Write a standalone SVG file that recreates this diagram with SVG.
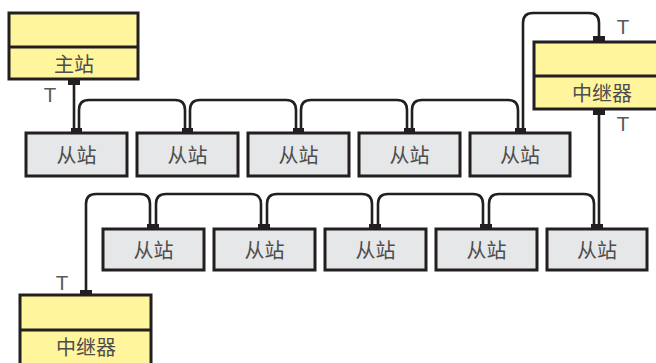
<svg xmlns="http://www.w3.org/2000/svg" width="656" height="363" viewBox="0 0 656 363">
<style>
.y{fill:#fff59d;stroke:#231f20;stroke-width:3}
.g{fill:#e6e7e8;stroke:#231f20;stroke-width:3}
.dv{stroke:#231f20;stroke-width:3}
.t{font-family:"Noto Sans CJK SC","Liberation Sans",sans-serif;font-size:20px;fill:#4d4d4d;text-anchor:middle;dominant-baseline:central}
.tt{font-family:"Liberation Sans",sans-serif;font-size:20.5px;fill:#58595b;text-anchor:middle}
.c{fill:none;stroke:#231f20;stroke-width:2.6}
.b{fill:#231f20}
</style>
<rect width="656" height="363" fill="#fff"/>
<g id="connectors">
<path class="c" d="M74 85 V128"/>
<path class="c" d="M79 128 V110 Q79 100 89 100 H175 Q185 100 185 110 V128"/>
<path class="c" d="M190 128 V110 Q190 100 200 100 H286 Q296 100 296 110 V128"/>
<path class="c" d="M301 128 V110 Q301 100 311 100 H397 Q407 100 407 110 V128"/>
<path class="c" d="M412 128 V110 Q412 100 422 100 H508 Q518 100 518 110 V128"/>
<path class="c" d="M523 128 V23 Q523 13 533 13 H589 Q599 13 599 23 V37"/>
<path class="c" d="M599 114 V224"/>
<path class="c" d="M594 224 V204 Q594 194 584 194 H499 Q489 194 489 204 V224"/>
<path class="c" d="M483 224 V204 Q483 194 473 194 H388 Q378 194 378 204 V224"/>
<path class="c" d="M372 224 V204 Q372 194 362 194 H277 Q267 194 267 204 V224"/>
<path class="c" d="M261 224 V204 Q261 194 251 194 H166 Q156 194 156 204 V224"/>
<path class="c" d="M150 224 V204 Q150 194 140 194 H96 Q86 194 86 204 V290"/>
<rect class="b" x="68" y="79" width="12" height="6"/>
<rect class="b" x="71" y="128" width="11" height="6"/>
<rect class="b" x="182" y="128" width="11" height="6"/>
<rect class="b" x="293" y="128" width="11" height="6"/>
<rect class="b" x="404" y="128" width="11" height="6"/>
<rect class="b" x="515" y="128" width="11" height="6"/>
<rect class="b" x="593" y="36" width="12" height="6"/>
<rect class="b" x="593" y="109" width="12" height="6"/>
<rect class="b" x="147" y="224" width="12" height="6"/>
<rect class="b" x="258" y="224" width="12" height="6"/>
<rect class="b" x="369" y="224" width="12" height="6"/>
<rect class="b" x="480" y="224" width="12" height="6"/>
<rect class="b" x="591" y="224" width="12" height="6"/>
<rect class="b" x="80" y="290" width="12" height="6"/>
</g>
<g id="master">
<rect class="y" x="9" y="13" width="129" height="66"/>
<line class="dv" x1="9" y1="47" x2="138" y2="47"/>
<text class="t" x="74" y="63">主站</text>
<text class="tt" x="50" y="102">T</text>
</g>
<g id="repeater1">
<rect class="y" x="534" y="42" width="132" height="67"/>
<line class="dv" x1="534" y1="76" x2="666" y2="76"/>
<text class="t" x="602" y="92">中继器</text>
<text class="tt" x="623" y="34">T</text>
<text class="tt" x="623" y="131">T</text>
</g>
<g id="repeater2">
<rect class="y" x="20" y="295" width="131" height="80"/>
<line class="dv" x1="20" y1="330" x2="151" y2="330"/>
<text class="t" x="86" y="346">中继器</text>
<text class="tt" x="62" y="290">T</text>
</g>
<g id="s1"><rect class="g" x="26" y="133" width="101" height="43"/><text class="t" x="76.5" y="154.5">从站</text></g>
<g id="s2"><rect class="g" x="137" y="133" width="101" height="43"/><text class="t" x="187.5" y="154.5">从站</text></g>
<g id="s3"><rect class="g" x="248" y="133" width="101" height="43"/><text class="t" x="298.5" y="154.5">从站</text></g>
<g id="s4"><rect class="g" x="359" y="133" width="101" height="43"/><text class="t" x="409.5" y="154.5">从站</text></g>
<g id="s5"><rect class="g" x="470" y="133" width="100" height="43"/><text class="t" x="520" y="154.5">从站</text></g>
<g id="s6"><rect class="g" x="103" y="229" width="101" height="41"/><text class="t" x="153.5" y="249.5">从站</text></g>
<g id="s7"><rect class="g" x="214" y="229" width="101" height="41"/><text class="t" x="264.5" y="249.5">从站</text></g>
<g id="s8"><rect class="g" x="325" y="229" width="101" height="41"/><text class="t" x="375.5" y="249.5">从站</text></g>
<g id="s9"><rect class="g" x="436" y="229" width="101" height="41"/><text class="t" x="486.5" y="249.5">从站</text></g>
<g id="s10"><rect class="g" x="547" y="229" width="100" height="41"/><text class="t" x="597" y="249.5">从站</text></g>
</svg>
